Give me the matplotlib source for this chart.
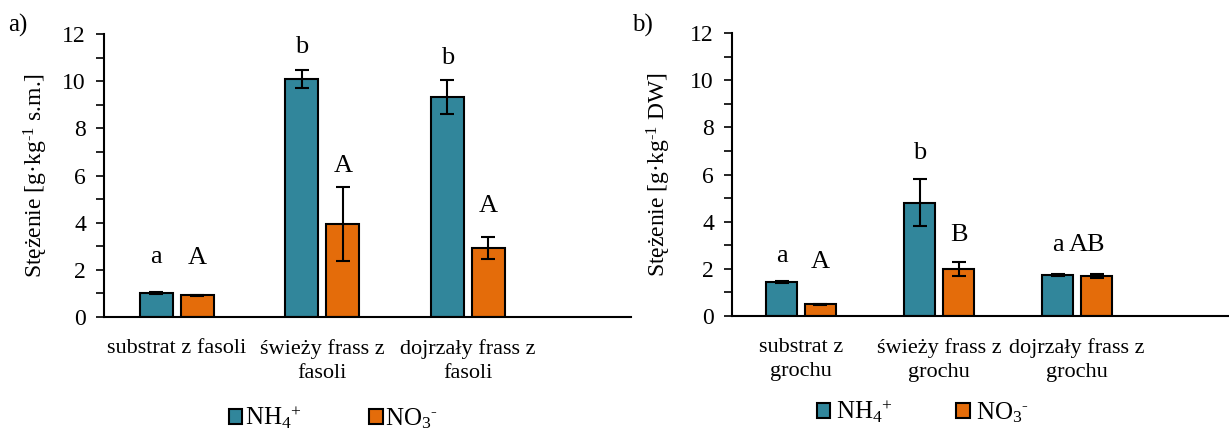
import matplotlib
matplotlib.use("Agg")
import matplotlib.pyplot as plt
import numpy as np
from matplotlib.patches import Patch

plt.rcParams['font.family'] = ['Liberation Serif', 'DejaVu Serif']
plt.rcParams['mathtext.fontset'] = 'custom'
plt.rcParams['mathtext.rm'] = 'Liberation Serif'
plt.rcParams['mathtext.it'] = 'Liberation Serif:italic'
plt.rcParams['mathtext.default'] = 'rm'

# ---- data ----
cats_a = ["substrat z fasoli", "świeży frass z\nfasoli", "dojrzały frass z\nfasoli"]
nh4_a = [1.02, 10.09, 9.31]
nh4_a_err = [0.03, 0.37, 0.72]
no3_a = [0.92, 3.94, 2.93]
no3_a_err = [0.03, 1.58, 0.46]
nh4_a_letters = ["a", "b", "b"]
no3_a_letters = ["A", "A", "A"]
nh4_a_label_y = [2.56, 11.46, 10.97]
no3_a_label_y = [2.49, 6.42, 4.71]

cats_b = ["substrat z\ngrochu", "świeży frass z\ngrochu", "dojrzały frass z\ngrochu"]
nh4_b = [1.44, 4.81, 1.74]
nh4_b_err = [0.04, 0.98, 0.04]
no3_b = [0.50, 1.98, 1.70]
no3_b_err = [0.02, 0.30, 0.07]
nh4_b_letters = ["a", "b", "a"]
no3_b_letters = ["A", "B", "AB"]
nh4_b_label_y = [2.55, 6.90, 2.99]
no3_b_label_y = [2.31, 3.44, 2.99]

ylabel_a = "Stężenie [g·kg$^{\u20101}$ s.m.]"
ylabel_b = "Stężenie [g·kg$^{\u20101}$ DW]"
yticks = [0, 2, 4, 6, 8, 10, 12]
series_names = ["NH$_4$$^{+}$", "NO$_3$$^{\u2010}$"]

TEAL = "#31869B"
ORANGE = "#E46C0A"

fig = plt.figure(figsize=(12.29, 4.32), dpi=100)
ax_a = fig.add_axes([0.0846, 0.2662, 0.4288, 0.6551])
ax_b = fig.add_axes([0.5956, 0.2685, 0.4044, 0.6551])


def draw(ax, cats, nh4, nh4e, no3, no3e, l1, l2, y1, y2, ylabel, xmax, ylx):
    x = np.arange(len(cats))
    w = 0.226
    off = 0.141
    ek = dict(ecolor="black", elinewidth=1.5, capsize=5, capthick=1.5)
    ax.bar(x - off, nh4, w, yerr=nh4e, color=TEAL, edgecolor="black",
           linewidth=1.5, error_kw=ek, zorder=2)
    ax.bar(x + off, no3, w, yerr=no3e, color=ORANGE, edgecolor="black",
           linewidth=1.5, error_kw=ek, zorder=2)
    for i in range(len(cats)):
        ax.text(x[i] - off, y1[i], l1[i], ha="center", va="center", fontsize=19)
        dx = -0.07 if len(l2[i]) > 1 else 0
        ax.text(x[i] + off + dx, y2[i], l2[i], ha="center", va="center", fontsize=19)
    ax.set_xlim(-0.5, xmax)
    ax.set_ylim(0, 12)
    ax.set_yticks(yticks)
    ax.set_yticks(np.arange(1, 12, 2), minor=True)
    ax.tick_params(axis="y", which="major", length=6, width=1.2, direction="out",
                   labelsize=17, pad=7)
    ax.tick_params(axis="y", which="minor", length=6, width=1.2, direction="out")
    ax.set_xticks(x)
    ax.set_xticklabels(cats, fontsize=16, linespacing=1.35)
    ax.tick_params(axis="x", length=0, pad=16)
    for s in ["top", "right"]:
        ax.spines[s].set_visible(False)
    ax.spines["left"].set_linewidth(1.5)
    ax.spines["bottom"].set_linewidth(1.5)
    ax.set_ylabel(ylabel, fontsize=17)
    ax.yaxis.set_label_coords(ylx, 0.5)


draw(ax_a, cats_a, nh4_a, nh4_a_err, no3_a, no3_a_err, nh4_a_letters, no3_a_letters,
     nh4_a_label_y, no3_a_label_y, ylabel_a, 3.12, -0.1025)
draw(ax_b, cats_b, nh4_b, nh4_b_err, no3_b, no3_b_err, nh4_b_letters, no3_b_letters,
     nh4_b_label_y, no3_b_label_y, ylabel_b, 3.10, -0.119)

handles = [Patch(facecolor=TEAL, edgecolor="black", linewidth=1.5),
           Patch(facecolor=ORANGE, edgecolor="black", linewidth=1.5)]
fig.legend(handles, series_names, loc="center left",
           bbox_to_anchor=(216 / 1229, 1 - 418 / 432), borderpad=0,
           ncol=2, frameon=False, fontsize=18, handlelength=0.55, handleheight=0.55,
           handletextpad=0.1, columnspacing=2.7)
fig.legend(handles, series_names, loc="center left",
           bbox_to_anchor=(804 / 1229, 1 - 412 / 432), borderpad=0,
           ncol=2, frameon=False, fontsize=18, handlelength=0.55, handleheight=0.55,
           handletextpad=0.25, columnspacing=2.5)

fig.text(0.007, 0.94, "a)", fontsize=18, va="center", ha="left")
fig.text(0.514, 0.94, "b)", fontsize=18, va="center", ha="left")

fig.savefig("out.png", dpi=100)
